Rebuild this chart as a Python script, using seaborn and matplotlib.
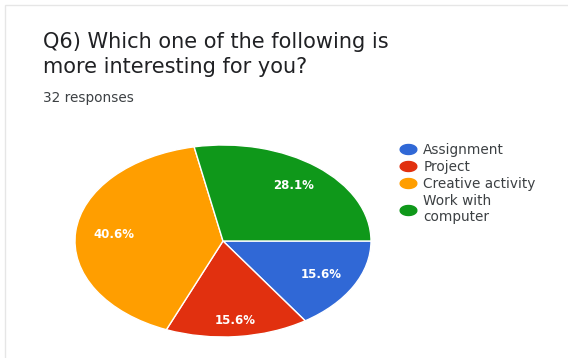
import matplotlib
matplotlib.use("Agg")
import matplotlib.pyplot as plt
from matplotlib.lines import Line2D
from matplotlib.patches import Rectangle
import numpy as np
import seaborn as sns

sns.set_theme(style="white")
plt.rcParams["font.family"] = ["DejaVu Sans"]

# Survey answers (32 responses)
categories = ["Assignment", "Project", "Creative activity", "Work with\ncomputer"]
counts = [5, 5, 13, 9]
colors = ["#3068D6", "#E1300F", "#FF9E00", "#0F981A"]
title_lines = ["Q6) Which one of the following is", "more interesting for you?"]
subtitle = "32 responses"

W, H = 568, 358
fig = plt.figure(figsize=(W / 100, H / 100), dpi=100)
fig.patch.set_facecolor("white")

# card outline
fig.patches.append(Rectangle((5 / W, -0.05), 1.2, 1 - 5 / H + 0.05, transform=fig.transFigure,
                             facecolor="none", edgecolor="#e6e6e6", lw=1.0))

# title block
fig.text(43 / W, 1 - 48 / H, title_lines[0], fontsize=15, color="#202124", va="baseline")
fig.text(43 / W, 1 - 73 / H, title_lines[1], fontsize=15, color="#202124", va="baseline")
fig.text(43 / W, 1 - 102 / H, subtitle, fontsize=9.8, color="#3c4043", va="baseline")

# pie drawn as an ellipse: axes box is wider than tall
cx, cy, rx, ry = 223, 241, 148, 96
ax = fig.add_axes([(cx - rx) / W, (H - cy - ry) / H, 2 * rx / W, 2 * ry / H])
wedges, _, autotexts = ax.pie(
    counts, colors=colors, startangle=0, counterclock=False,
    autopct="%.1f%%", pctdistance=0.75,
    wedgeprops=dict(edgecolor="white", linewidth=1.0),
    textprops=dict(color="white", fontsize=8.5, fontweight="bold"),
)
ax.set_aspect("auto")
ax.set_xlim(-1, 1)
ax.set_ylim(-1, 1)
ax.axis("off")

# place the Project label a little further out
dists = [0.75, 0.83, 0.74, 0.75]
for w, t, d in zip(wedges, autotexts, dists):
    ang = np.deg2rad((w.theta1 + w.theta2) / 2)
    t.set_position((d * np.cos(ang), d * np.sin(ang)))

# flattened dot for the legend keys
th = np.linspace(0, 2 * np.pi, 60)
oval = np.column_stack([np.cos(th), 0.6 * np.sin(th)])
handles = [Line2D([], [], marker=oval, linestyle="none", markersize=12,
                  markerfacecolor=c, markeredgecolor=c) for c in colors]
fig.legend(handles, categories, loc="upper left",
           bbox_to_anchor=(400 / W, 1 - 143 / H), frameon=False,
           fontsize=9.8, labelcolor="#3c4043", handletextpad=0.5,
           labelspacing=0.22, borderaxespad=0, borderpad=0, handlelength=1.2)

fig.savefig("out.png", dpi=100, facecolor="white")
